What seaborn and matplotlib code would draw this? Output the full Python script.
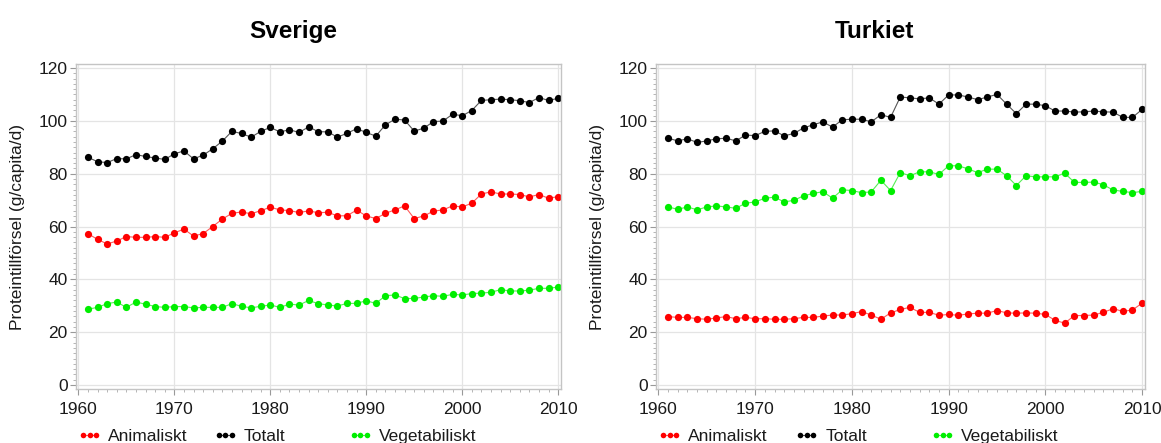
import numpy as np
import pandas as pd
import matplotlib
matplotlib.use("Agg")
import matplotlib.pyplot as plt
from matplotlib.ticker import MultipleLocator
from matplotlib.lines import Line2D
import seaborn as sns

# ---------------- data ----------------
years = list(range(1961, 2011))
series = ["Animaliskt", "Totalt", "Vegetabiliskt"]
countries = ["Sverige", "Turkiet"]

sverige_animaliskt = [57.3, 55.1, 53.4, 54.5, 56.2, 55.9, 55.9, 56.2, 55.9, 57.6,
                      59.0, 56.4, 57.3, 60.0, 62.8, 65.0, 65.5, 64.8, 66.0, 67.3,
                      66.3, 66.0, 65.3, 65.9, 65.2, 65.4, 64.0, 64.1, 66.2, 64.0,
                      63.0, 65.0, 66.3, 67.8, 63.0, 64.0, 65.8, 66.3, 67.8, 67.4,
                      68.8, 72.3, 73.1, 72.3, 72.3, 72.1, 71.2, 72.1, 70.7, 71.3]
sverige_totalt = [86.2, 84.5, 84.2, 85.7, 85.6, 87.2, 86.5, 85.9, 85.4, 87.5,
                  88.6, 85.6, 87.0, 89.4, 92.3, 96.0, 95.2, 93.8, 96.0, 97.5,
                  95.8, 96.6, 95.6, 97.7, 95.9, 95.8, 93.8, 95.3, 97.0, 95.6,
                  94.2, 98.5, 100.6, 100.3, 96.1, 97.2, 99.7, 99.9, 102.5, 101.9,
                  103.9, 107.7, 108.0, 108.2, 108.0, 107.6, 106.9, 108.8, 107.7, 108.5]
sverige_vegetabiliskt = [28.7, 29.4, 30.8, 31.4, 29.4, 31.4, 30.6, 29.7, 29.4, 29.7,
                         29.7, 29.2, 29.4, 29.4, 29.4, 30.8, 29.8, 29.2, 29.8, 30.3,
                         29.4, 30.6, 30.3, 32.0, 30.8, 30.3, 29.9, 30.9, 30.9, 31.9,
                         30.9, 33.8, 34.1, 32.7, 32.8, 33.3, 33.8, 33.6, 34.3, 34.1,
                         34.6, 34.8, 35.1, 36.1, 35.6, 35.6, 35.9, 36.6, 36.6, 37.1]

turkiet_animaliskt = [25.9, 25.6, 25.6, 25.1, 24.9, 25.4, 25.9, 25.1, 25.6, 25.1,
                      25.1, 24.9, 24.9, 25.1, 25.6, 25.6, 26.1, 26.5, 26.5, 27.0,
                      27.8, 26.5, 24.9, 27.3, 28.6, 29.4, 27.5, 27.5, 26.4, 26.7,
                      26.4, 26.9, 27.2, 27.2, 28.2, 27.3, 27.2, 27.3, 27.2, 26.7,
                      24.5, 23.4, 26.3, 26.3, 26.5, 27.5, 28.9, 27.9, 28.4, 31.0]
turkiet_totalt = [93.4, 92.4, 93.2, 91.8, 92.4, 93.2, 93.4, 92.4, 94.6, 94.4,
                  96.0, 96.2, 94.3, 95.2, 97.3, 98.5, 99.6, 97.6, 100.4, 100.6,
                  100.6, 99.6, 102.3, 101.3, 109.0, 108.7, 108.3, 108.7, 106.3, 109.8,
                  109.8, 109.0, 108.0, 109.0, 110.0, 106.3, 102.7, 106.3, 106.3, 105.7,
                  103.7, 103.7, 103.3, 103.4, 103.7, 103.4, 103.3, 101.3, 101.3, 104.3]
turkiet_vegetabiliskt = [67.4, 66.5, 67.4, 66.3, 67.4, 67.8, 67.4, 66.9, 68.8, 69.3,
                         70.7, 71.1, 69.3, 69.9, 71.6, 72.5, 73.2, 70.7, 73.9, 73.6,
                         72.8, 73.1, 77.5, 73.6, 80.4, 79.2, 80.7, 80.7, 79.7, 83.0,
                         83.0, 81.8, 80.4, 81.7, 81.7, 79.2, 75.5, 79.2, 78.8, 78.8,
                         78.8, 80.2, 76.7, 76.7, 76.8, 75.8, 73.8, 73.3, 72.8, 73.3]

x_ticks = [1960, 1970, 1980, 1990, 2000, 2010]
y_ticks = [0, 20, 40, 60, 80, 100, 120]
y_label = "Proteintillförsel (g/capita/d)"

data_by_country = {
    "Sverige": [sverige_animaliskt, sverige_totalt, sverige_vegetabiliskt],
    "Turkiet": [turkiet_animaliskt, turkiet_totalt, turkiet_vegetabiliskt],
}

# ---------------- style ----------------
sns.set_theme(style="white")
plt.rcParams["font.family"] = ["Liberation Sans", "DejaVu Sans"]

marker_colors = {"Animaliskt": "#ff0000", "Totalt": "#000000", "Vegetabiliskt": "#00ee00"}
line_colors = {"Animaliskt": "#ff5a5a", "Totalt": "#555555", "Vegetabiliskt": "#55ee55"}
spine_color = "#c4c4c4"
grid_color = "#e4e4e4"
text_color = "#1a1a1a"

fig = plt.figure(figsize=(11.61, 4.43), dpi=100)
W, H = 1161, 443
axes_px = [(76, 561), (656, 1145)]
top_px, bot_px = 64, 389

for (x0, x1), country in zip(axes_px, countries):
    ax = fig.add_axes([x0 / W, 1 - bot_px / H, (x1 - x0) / W, (bot_px - top_px) / H])
    vals = data_by_country[country]
    df = pd.DataFrame({
        "År": years * 3,
        "Värde": vals[0] + vals[1] + vals[2],
        "Serie": sum([[s] * len(years) for s in series], []),
    })
    sns.lineplot(data=df, x="År", y="Värde", hue="Serie", hue_order=series,
                 palette=marker_colors, marker="o", markersize=5.2,
                 markeredgewidth=0, linewidth=0.8, ax=ax, legend=False)
    for line, s in zip(ax.lines, series):
        line.set_color(line_colors[s])
        line.set_markerfacecolor(marker_colors[s])
        line.set_markeredgecolor(marker_colors[s])

    ax.set_xlim(1959.75, 2010.3)
    ax.set_ylim(-1.5, 121.5)
    ax.set_xticks(x_ticks)
    ax.set_yticks(y_ticks)
    ax.xaxis.set_minor_locator(MultipleLocator(1))
    ax.yaxis.set_minor_locator(MultipleLocator(2))
    ax.grid(True, which="major", color=grid_color, linewidth=0.9)
    ax.set_axisbelow(True)
    for sp in ax.spines.values():
        sp.set_color(spine_color)
        sp.set_linewidth(1.0)
    ax.tick_params(axis="both", which="major", direction="out", length=4,
                   width=0.8, color="#999999", labelsize=12.5, labelcolor=text_color,
                   bottom=True, left=True)
    ax.tick_params(axis="both", which="minor", direction="out", length=2.2,
                   width=0.6, color="#aaaaaa", bottom=True, left=True)
    ax.tick_params(axis="x", which="major", pad=5)
    ax.tick_params(axis="y", which="major", pad=2)

    ax.set_xlabel("")
    ax.set_ylabel(y_label, fontsize=12.5, color=text_color)
    width_px = x1 - x0
    ax.yaxis.set_label_coords((x0 - 51 - x0) / width_px, 0.5)
    ax.set_title(country, fontsize=17.5, fontweight="bold", color="#000000",
                 x=0.447, pad=19)

    # legends: one per entry, placed at fixed column positions
    xs = [0.004, 0.284, 0.562]
    legs = []
    for s, xa in zip(series, xs):
        h = Line2D([0], [0], color=line_colors[s], linewidth=0.8, marker="o",
                   markersize=4, markerfacecolor=marker_colors[s],
                   markeredgecolor=marker_colors[s], markeredgewidth=0)
        leg = ax.legend(handles=[h], labels=[s], loc="center left",
                        bbox_to_anchor=(xa, -0.145), frameon=False,
                        borderpad=0, borderaxespad=0, numpoints=3,
                        handlelength=1.35, handletextpad=0.4,
                        prop={"size": 12.5})
        for t in leg.get_texts():
            t.set_color(text_color)
        legs.append(leg)
    for leg in legs[:-1]:
        ax.add_artist(leg)

fig.savefig("out.png", dpi=100)
